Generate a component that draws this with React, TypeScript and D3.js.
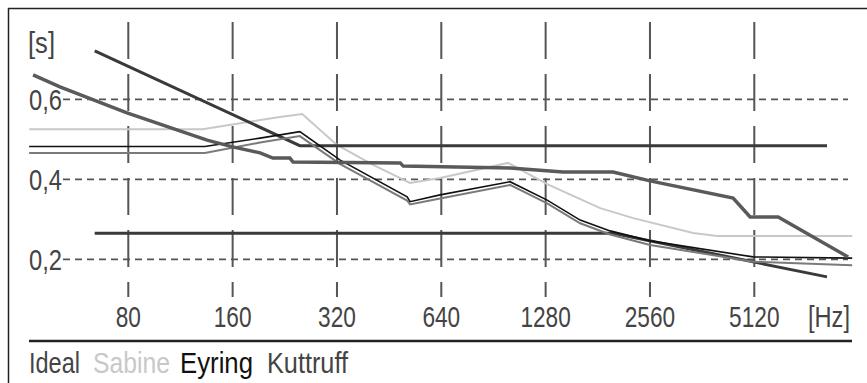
import React from 'react'
import * as d3 from 'd3'

// axis ticks
const xTicks = [80, 160, 320, 640, 1280, 2560, 5120]
const xTickLabels = ['80', '160', '320', '640', '1280', '2560', '5120']
const yTicks = [0.2, 0.4, 0.6]
const yTickLabels = ['0,2', '0,4', '0,6']

// tolerance band around the ideal value
const upperFreq = [64, 250, 8300]
const upperValues = [0.721, 0.484, 0.484]
const lowerFreq = [64, 2000, 8300]
const lowerValues = [0.265, 0.265, 0.156]

// Ideal
const idealFreq = [42.5, 50.8, 79.3, 135, 160, 192, 209, 234, 239, 487, 497, 1010, 1437, 2003, 2561, 4448, 4980, 6000, 9550]
const idealValues = [0.661, 0.631, 0.566, 0.498, 0.481, 0.466, 0.453, 0.453, 0.443, 0.441, 0.433, 0.428, 0.418, 0.418, 0.396, 0.353, 0.306, 0.306, 0.206]

// Sabine
const sabineFreq = [41.4, 131, 219, 254, 320, 407, 520, 635, 997, 1293, 1839, 2290, 3411, 4001, 9810]
const sabineValues = [0.525, 0.525, 0.556, 0.563, 0.486, 0.436, 0.391, 0.403, 0.441, 0.388, 0.328, 0.303, 0.266, 0.258, 0.258]

// Eyring
const eyringFreq = [41.4, 133, 192, 250, 327, 510, 520, 635, 1010, 1293, 1610, 1965, 2561, 5080, 9810]
const eyringValues = [0.482, 0.482, 0.503, 0.519, 0.448, 0.356, 0.344, 0.361, 0.394, 0.348, 0.298, 0.271, 0.246, 0.206, 0.203]

// Kuttruff
const kuttruffFreq = [41.4, 133, 192, 250, 327, 510, 520, 635, 1010, 1293, 1610, 1965, 2561, 5080, 9810]
const kuttruffValues = [0.466, 0.466, 0.492, 0.508, 0.438, 0.347, 0.337, 0.352, 0.386, 0.34, 0.29, 0.262, 0.236, 0.194, 0.185]

const legendNames = ['Ideal', 'Sabine', 'Eyring', 'Kuttruff']
const legendColors = ['#444', '#c8c8c8', '#111', '#444']
const legendX = [29, 93, 180, 267]
const legendW = [51, 77, 73, 81]

const W = 867
const H = 383
const font = "'Liberation Sans Narrow', 'Arial Narrow', 'Liberation Sans', Arial, sans-serif"

export default function App() {
  const x = d3.scaleLog().base(2).domain([80, 5120]).range([128.3, 754.3])
  const y = d3.scaleLinear().domain([0.2, 0.6]).range([259.3, 99.3])

  const line = (fs: number[], vs: number[]) =>
    d3.line<number>()
      .x((d, i) => x(fs[i]))
      .y(d => y(d))(vs) as string

  return (
    <svg width={W} height={H} style={{ position: 'absolute', left: 0, top: 0, background: '#fff' }}>
      <rect x={0} y={0} width={W} height={H} fill="#fff" />
      {/* frame */}
      <line x1={8} y1={8.5} x2={W} y2={8.5} stroke="#222" strokeWidth={1.5} />
      <line x1={8.5} y1={8} x2={8.5} y2={H} stroke="#222" strokeWidth={1.5} />

      {/* grid */}
      {yTicks.map(t => (
        <line key={'h' + t} x1={63} x2={848} y1={y(t)} y2={y(t)} stroke="#555" strokeWidth={1.8} strokeDasharray="7 5" />
      ))}
      {xTicks.map(t => (
        <line key={'v' + t} x1={x(t)} x2={x(t)} y1={22} y2={297} stroke="#555" strokeWidth={2} strokeDasharray="37 15" />
      ))}

      {/* series */}
      <path d={line(sabineFreq, sabineValues)} fill="none" stroke="#c8c8c8" strokeWidth={2} />
      <path d={line(upperFreq, upperValues)} fill="none" stroke="#3a3a3a" strokeWidth={3} />
      <path d={line(lowerFreq, lowerValues)} fill="none" stroke="#3a3a3a" strokeWidth={3} />
      <path d={line(kuttruffFreq, kuttruffValues)} fill="none" stroke="#7a7a7a" strokeWidth={2} />
      <path d={line(eyringFreq, eyringValues)} fill="none" stroke="#111" strokeWidth={1.6} />
      <path d={line(idealFreq, idealValues)} fill="none" stroke="#5a5a5a" strokeWidth={3.5} />

      {/* axis labels */}
      <g fontFamily={font} fontSize={30} fill="#444">
        {xTicks.map((t, i) => (
          <text key={'xl' + t} x={x(t)} y={327} textAnchor="middle"
            textLength={xTickLabels[i].length * 12.6} lengthAdjust="spacingAndGlyphs">{xTickLabels[i]}</text>
        ))}
        {yTicks.map((t, i) => (
          <text key={'yl' + t} x={29} y={y(t) + 11} textLength={33} lengthAdjust="spacingAndGlyphs">{yTickLabels[i]}</text>
        ))}
        <text x={28} y={53} textLength={27} lengthAdjust="spacingAndGlyphs">[s]</text>
        <text x={808} y={327} textLength={42} lengthAdjust="spacingAndGlyphs">[Hz]</text>
      </g>

      {/* legend */}
      <line x1={29} x2={852} y1={341} y2={341} stroke="#222" strokeWidth={2.5} />
      <g fontFamily={font} fontSize={29}>
        {legendNames.map((n, i) => (
          <text key={n} x={legendX[i]} y={373} fill={legendColors[i]}
            textLength={legendW[i]} lengthAdjust="spacingAndGlyphs">{n}</text>
        ))}
      </g>
    </svg>
  )
}
